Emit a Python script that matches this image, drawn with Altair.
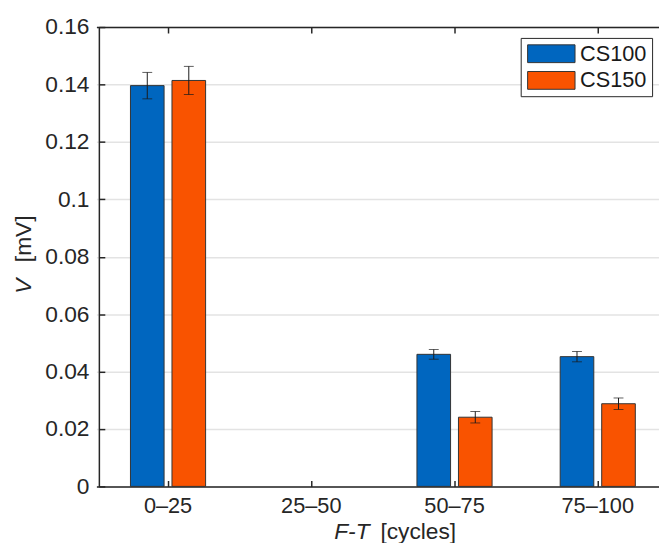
import altair as alt
import pandas as pd

categories = ["0–25", "25–50", "50–75", "75–100"]
series = ["CS100", "CS150"]
cs100_mean = [0.1396, None, 0.0460, 0.0452]
cs100_err = [0.0046, None, 0.0017, 0.0018]
cs150_mean = [0.1414, None, 0.0241, 0.0288]
cs150_err = [0.0049, None, 0.0020, 0.0020]
colors = ["#0066BF", "#F95300"]
y_ticks = [0, 0.02, 0.04, 0.06, 0.08, 0.1, 0.12, 0.14, 0.16]

rows = []
for s, means, errs in [("CS100", cs100_mean, cs100_err), ("CS150", cs150_mean, cs150_err)]:
    for c, m, e in zip(categories, means, errs):
        if m is not None:
            rows.append({"cat": c, "series": s, "v": m, "lo": m - e, "hi": m + e})
df = pd.DataFrame(rows)

FONT = "Liberation Sans"
INK = "#262626"
W, H = 567, 465
LBL = 22
TTL = 23

xscale = alt.Scale(domain=categories, range=[-2.5, 577.5], paddingInner=0, paddingOuter=0)
offscale = alt.Scale(domain=series, paddingInner=0.19, paddingOuter=0.82)
yscale = alt.Scale(domain=[0, 0.16], nice=False)

bars = alt.Chart(df).mark_bar(stroke="#333333", strokeWidth=1).encode(
    x=alt.X("cat:N", scale=xscale, sort=categories,
            axis=alt.Axis(orient="bottom", title=None, labelAngle=0, domain=True,
                          domainColor=INK, domainWidth=1.5, ticks=False,
                          labelPadding=9, labelFontSize=LBL, labelFont=FONT,
                          labelColor=INK, grid=False)),
    xOffset=alt.XOffset("series:N", scale=offscale),
    y=alt.Y("v:Q", scale=yscale,
            axis=alt.Axis(orient="left", title=None, values=y_ticks, format=".2~f",
                          grid=True, gridColor="#E3E3E3", gridWidth=1.5,
                          domain=True, domainColor=INK, domainWidth=1.5, ticks=False,
                          labelPadding=10, labelFontSize=23, labelFont=FONT,
                          labelColor=INK)),
    color=alt.Color("series:N", scale=alt.Scale(domain=series, range=colors),
                    legend=alt.Legend(title=None, orient="none", legendX=427, legendY=11,
                                      symbolType="M-1,-1H4.333V1H-1Z", symbolSize=324,
                                      symbolStrokeColor="#333333", symbolStrokeWidth=1,
                                      symbolOpacity=1,
                                      labelFontSize=22, labelFont=FONT, labelColor="#1a1a1a",
                                      labelOffset=33, rowPadding=5, padding=5,
                                      strokeColor=INK, fillColor="white")),
)

rules = alt.Chart(df).mark_rule(color="#1a1a1a", strokeWidth=1).encode(
    x=alt.X("cat:N", scale=xscale, sort=categories,
            axis=alt.Axis(orient="bottom", offset=-H, title=None, labels=False,
                          domain=True, domainColor=INK, domainWidth=1.5,
                          ticks=True, tickSize=6, tickColor=INK, tickWidth=1.5, grid=False)),
    xOffset=alt.XOffset("series:N", scale=offscale),
    y=alt.Y("lo:Q", scale=yscale, axis=None),
    y2="hi:Q",
)

caps = alt.Chart(df).transform_fold(["lo", "hi"], as_=["end", "val"]).mark_tick(
    color="#1a1a1a", thickness=1, size=10, orient="horizontal"
).encode(
    x=alt.X("cat:N", scale=xscale, sort=categories,
            axis=alt.Axis(orient="top", offset=-H, title=None, labels=False,
                          domain=False, ticks=True, tickSize=6, tickColor=INK,
                          tickWidth=1.5, grid=False)),
    xOffset=alt.XOffset("series:N", scale=offscale),
    y=alt.Y("val:Q", scale=yscale,
            axis=alt.Axis(orient="right", offset=-W, title=None, labels=False,
                          values=y_ticks, domain=False, ticks=True, tickSize=6,
                          tickColor=INK, tickWidth=1.5, grid=False)),
)

tdf = pd.DataFrame({"t": [0]})
tstyle = dict(fontSize=TTL, font=FONT, color=INK, baseline="alphabetic")
xt1 = alt.Chart(tdf).mark_text(text="F-T", fontStyle="italic", align="right", **tstyle).encode(
    x=alt.value(274), y=alt.value(518))
xt2 = alt.Chart(tdf).mark_text(text="[cycles]", align="left", **tstyle).encode(
    x=alt.value(285), y=alt.value(518))
yt1 = alt.Chart(tdf).mark_text(text="V", fontStyle="italic", align="left", angle=270, **tstyle).encode(
    x=alt.value(-69), y=alt.value(270))
yt2 = alt.Chart(tdf).mark_text(text="[mV]", align="left", angle=270, **tstyle).encode(
    x=alt.value(-69), y=alt.value(238))

chart = alt.layer(bars, rules, caps, xt1, xt2, yt1, yt2).resolve_axis(
    x="independent", y="independent"
).properties(
    width=W, height=H,
    autosize=alt.AutoSizeParams(type="none"),
    padding={"left": 92, "top": 16, "right": 0, "bottom": 54},
).configure_view(stroke=None).configure(background="white")

chart.save("out.html", embed_options={"renderer": "svg", "actions": False})
